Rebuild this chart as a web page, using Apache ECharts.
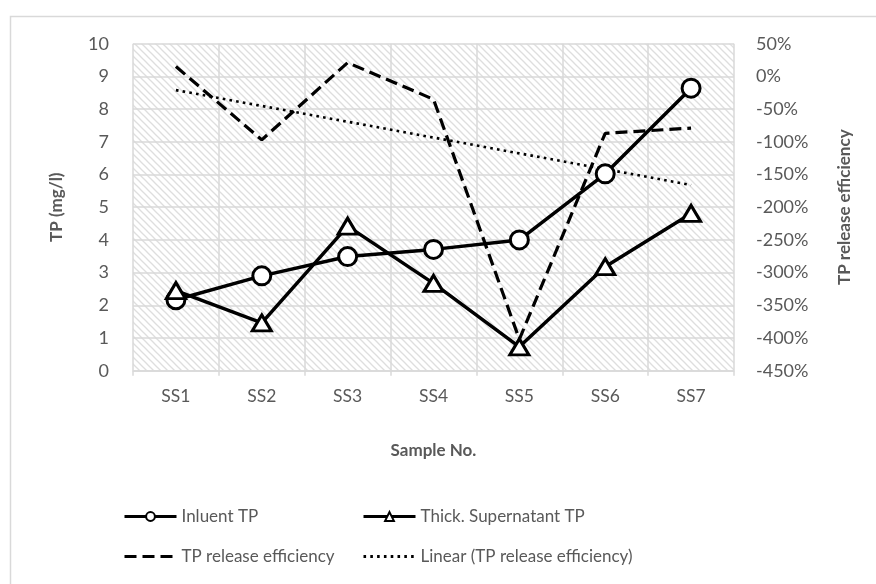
<!DOCTYPE html>
<html>
<head>
<meta charset="utf-8">
<script src="https://cdn.jsdelivr.net/npm/echarts@6/dist/echarts.min.js"></script>
<style>
html,body{margin:0;padding:0;background:#fff;}
#chart{width:876px;height:584px;}
</style>
</head>
<body>
<div id="chart"></div>
<script>
// ---- data ----
const categories = ['SS1','SS2','SS3','SS4','SS5','SS6','SS7'];
const influentTP = [2.17, 2.9, 3.49, 3.71, 4.0, 6.02, 8.64];
const thickSupernatantTP = [2.45, 1.46, 4.42, 2.67, 0.73, 3.18, 4.81];
const releaseEfficiency = [15, -97, 21, -35, -402, -87, -79];
// trendline read at its two ends (SS1, SS7)
const linearTrend = [-21, null, null, null, null, null, -166];
const leftTicks = {min: 0, max: 10, interval: 1};
const rightTicks = {min: -450, max: 50, interval: 50};

// hatch pattern
function hatch(){
  const s = 7;
  const c = document.createElement('canvas');
  c.width = s; c.height = s;
  const g = c.getContext('2d');
  g.fillStyle = '#ffffff';
  g.fillRect(0,0,s,s);
  g.strokeStyle = '#dedede';
  g.lineWidth = 1.3;
  for (let k=-1;k<=1;k++){
    g.beginPath();
    g.moveTo(-1, -1 + k*s);
    g.lineTo(s+1, s+1 + k*s);
    g.stroke();
  }
  return c;
}

const FONT = 'Lato';
const TXT = '#595959';
const GRIDC = '#d9d9d9';

const chart = echarts.init(document.getElementById('chart'), null, {renderer:'canvas'});
const legendBase = {
  itemWidth: 52, itemHeight: 11, itemGap: 6,
  textStyle: {fontFamily: FONT, fontSize: 17, color: TXT},
  lineStyle: {width: 3},
  orient: 'horizontal', padding: 0
};
const noSym = {color: 'transparent', borderColor: 'transparent', borderWidth: 0, opacity: 0};
chart.setOption({
  backgroundColor: '#ffffff',
  animation: false,
  graphic: [{
    type: 'rect', left: 8, top: 14,
    shape: {width: 900, height: 620},
    style: {fill: 'none', stroke: GRIDC, lineWidth: 1.5},
    silent: true, z: -10
  }],
  grid: {
    left: 133, right: 142, top: 43.7, bottom: 213.3,
    show: true, borderWidth: 0,
    backgroundColor: {image: hatch(), repeat: 'repeat'}
  },
  legend: [
    Object.assign({}, legendBase, {left: 123, top: 508, data: ['Inluent TP']}),
    Object.assign({}, legendBase, {left: 362, top: 508, data: ['Thick. Supernatant TP']}),
    Object.assign({}, legendBase, {left: 123, top: 548, data: [{name: 'TP release efficiency', itemStyle: noSym}]}),
    Object.assign({}, legendBase, {left: 362, top: 548, data: [{name: 'Linear (TP release efficiency)', itemStyle: noSym}]})
  ],
  xAxis: {
    type: 'category', data: categories, boundaryGap: true,
    name: 'Sample No.', nameLocation: 'middle', nameGap: 71,
    nameTextStyle: {fontFamily: FONT, fontSize: 17, fontWeight: 'bold', color: TXT},
    axisLine: {lineStyle: {color: GRIDC, width: 1.5}},
    axisTick: {show: true, length: 5, lineStyle: {color: GRIDC, width: 1.5}},
    axisLabel: {fontFamily: FONT, fontSize: 17.5, color: TXT, margin: 17},
    splitLine: {show: true, lineStyle: {color: GRIDC, width: 1.5}}
  },
  yAxis: [{
    type: 'value', min: leftTicks.min, max: leftTicks.max, interval: leftTicks.interval,
    name: 'TP (mg/l)', nameLocation: 'middle', nameGap: 68, nameRotate: 90,
    nameTextStyle: {fontFamily: FONT, fontSize: 17, fontWeight: 'bold', color: TXT},
    axisLine: {show: false}, axisTick: {show: false},
    axisLabel: {fontFamily: FONT, fontSize: 18, color: TXT, margin: 24},
    splitLine: {show: true, lineStyle: {color: GRIDC, width: 1.5}}
  },{
    type: 'value', min: rightTicks.min, max: rightTicks.max, interval: rightTicks.interval,
    name: 'TP release efficiency', nameLocation: 'middle', nameGap: 102, nameRotate: 90,
    nameTextStyle: {fontFamily: FONT, fontSize: 17, fontWeight: 'bold', color: TXT},
    axisLine: {show: false}, axisTick: {show: false},
    axisLabel: {fontFamily: FONT, fontSize: 18, color: TXT, margin: 22, formatter: '{value}%'},
    splitLine: {show: false}
  }],
  series: [{
    name: 'TP release efficiency', type: 'line', yAxisIndex: 1, data: releaseEfficiency,
    symbol: 'none', lineStyle: {color: '#000', width: 3.2, type: [12, 6]},
    itemStyle: {color: '#000'}, z: 2
  },{
    name: 'Linear (TP release efficiency)', type: 'line', yAxisIndex: 1, data: linearTrend,
    connectNulls: true, symbol: 'none',
    lineStyle: {color: '#000', width: 2.6, type: [2.6, 4.2]},
    itemStyle: {color: '#000'}, z: 2
  },{
    name: 'Inluent TP', type: 'line', yAxisIndex: 0, data: influentTP,
    symbol: 'circle', symbolSize: 18, showAllSymbol: true,
    lineStyle: {color: '#000', width: 3.5},
    itemStyle: {color: '#fff', borderColor: '#000', borderWidth: 3},
    z: 3
  },{
    name: 'Thick. Supernatant TP', type: 'line', yAxisIndex: 0, data: thickSupernatantTP,
    symbol: 'triangle', symbolSize: [19, 16], showAllSymbol: true,
    lineStyle: {color: '#000', width: 3.5},
    itemStyle: {color: '#fff', borderColor: '#000', borderWidth: 3},
    z: 3
  }]
});
</script>
</body>
</html>
